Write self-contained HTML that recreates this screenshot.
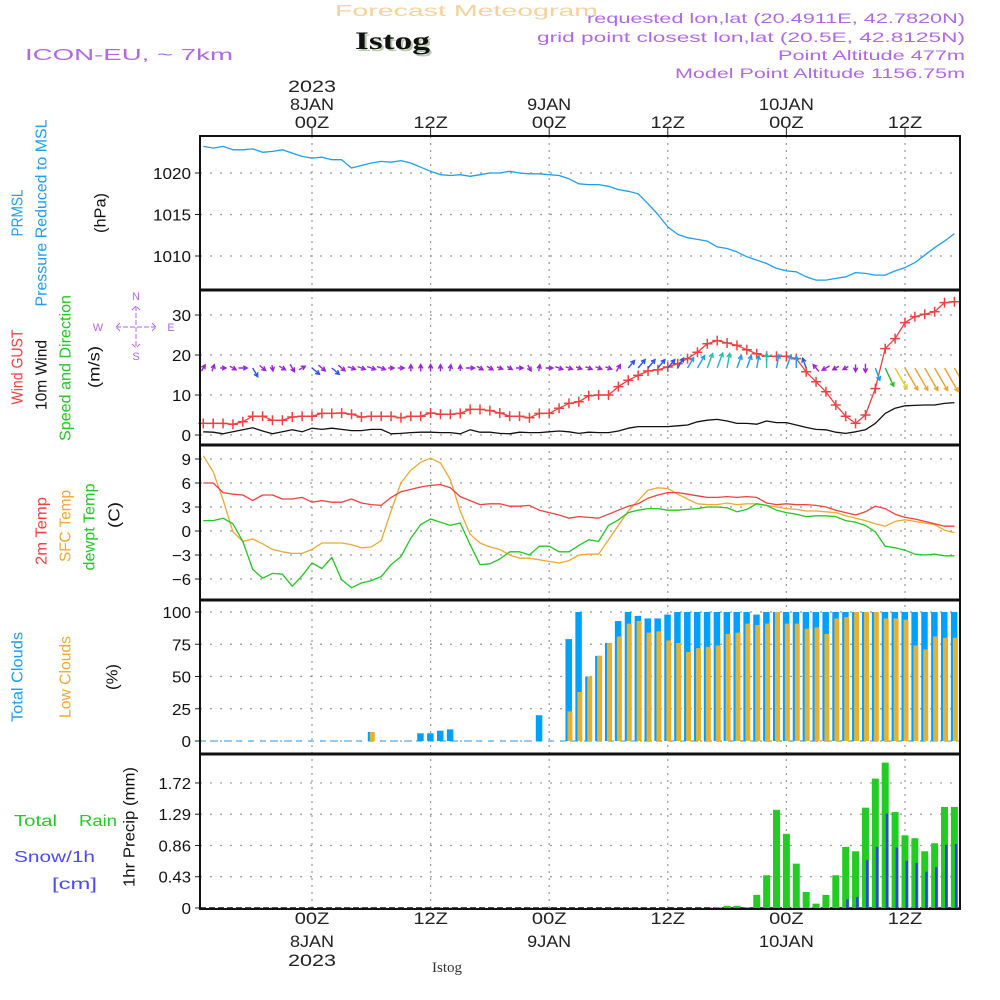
<!DOCTYPE html>
<html><head><meta charset="utf-8"><title>Istog Meteogram</title>
<style>
html,body{margin:0;padding:0;background:#fff;width:1000px;height:1000px;overflow:hidden}
svg{display:block;font-family:"Liberation Sans",sans-serif}
</style></head>
<body>
<svg id="chart" width="1000" height="1000" viewBox="0 0 1000 1000" xmlns="http://www.w3.org/2000/svg">
<text x="335" y="16" font-size="16" fill="#f5d29a" textLength="263" lengthAdjust="spacingAndGlyphs">Forecast Meteogram</text>
<text x="357" y="51" font-size="25" font-weight="bold" font-family="Liberation Serif, serif" fill="#b9c9b0" textLength="75" lengthAdjust="spacingAndGlyphs">Istog</text>
<text x="355" y="49" font-size="25" font-weight="bold" font-family="Liberation Serif, serif" fill="#111" textLength="75" lengthAdjust="spacingAndGlyphs">Istog</text>
<text x="25" y="60" font-size="16" fill="#b266e8" textLength="208" lengthAdjust="spacingAndGlyphs">ICON-EU, ~ 7km</text>
<g fill="#b266e8" font-size="14" text-anchor="end">
<text x="965" y="23" textLength="378" lengthAdjust="spacingAndGlyphs">requested lon,lat (20.4911E, 42.7820N)</text>
<text x="965" y="42" textLength="428" lengthAdjust="spacingAndGlyphs">grid point closest lon,lat (20.5E, 42.8125N)</text>
<text x="965" y="60" textLength="187" lengthAdjust="spacingAndGlyphs">Point Altitude 477m</text>
<text x="965" y="78" textLength="290" lengthAdjust="spacingAndGlyphs">Model Point Altitude 1156.75m</text>
</g>
<text transform="translate(982,700) rotate(-90)" text-anchor="middle" font-size="15" font-family="Liberation Serif, serif" fill="#d8d8d8">by Angel</text>
<text x="447" y="972" text-anchor="middle" font-size="15" font-family="Liberation Serif, serif" fill="#333">Istog</text>
<g id="labels" font-size="15"></g>
<g id="grid"></g>
<g id="marks"></g>
<g id="frame"></g>
</svg>
<script>
// ---- data (hourly, hours relative to 00Z 8 JAN 2023) ----
const hours = [];
for (let h = -11; h <= 65; h++) hours.push(h);
const pressure = [1023.2,1023.0,1023.2,1022.8,1022.8,1022.9,1022.5,1022.6,1022.8,1022.4,1022.0,
 1021.8,1021.9,1021.6,1021.6,1020.6,1020.9,1021.2,1021.4,1021.3,1021.5,1021.2,1020.7,
 1020.2,1019.8,1019.7,1019.8,1019.6,1019.8,1020.0,1020.0,1020.2,1020.0,1019.9,1019.9,
 1019.8,1019.7,1019.3,1018.7,1018.6,1018.6,1018.4,1018.0,1017.8,1017.5,1016.3,1015.0,
 1013.5,1012.6,1012.2,1012.0,1011.8,1011.1,1010.9,1010.5,1009.9,1009.5,1009.1,1008.5,
 1008.2,1008.1,1007.5,1007.1,1007.1,1007.3,1007.5,1008.0,1007.9,1007.7,1007.7,1008.2,
 1008.6,1009.2,1010.1,1011.0,1011.8,1012.7];
const gust = [2.9,2.9,2.9,2.7,3.3,4.7,4.7,3.7,3.7,4.5,4.7,
 4.7,5.4,5.4,5.5,5.2,4.5,4.7,4.7,4.7,4.3,4.7,4.7,
 5.5,5.2,5.2,5.4,6.4,6.4,6.1,5.5,4.7,4.7,4.3,5.4,
 5.4,6.7,7.9,8.3,9.8,10.0,10.0,12.1,13.7,14.9,16.0,16.3,
 17.0,17.8,19.1,20.7,22.8,23.6,23.0,22.4,21.3,20.3,19.7,19.7,
 19.7,19.1,15.8,13.3,10.8,7.5,4.7,2.9,5.0,11.6,21.6,24.1,
 28.1,29.6,30.2,30.8,33.1,33.3];
const wind10 = [0.8,0.7,0.3,0.8,1.3,1.8,1.0,0.3,0.8,1.3,0.8,
 1.7,1.4,1.7,1.4,1.1,1.1,1.4,1.4,0.3,0.4,0.6,0.7,
 0.7,0.6,0.6,0.3,1.3,0.7,0.7,0.4,0.3,0.7,0.6,0.6,
 0.8,1.0,0.8,0.4,0.7,0.6,0.6,1.0,1.7,2.1,2.1,2.1,
 2.1,2.3,2.5,3.3,3.7,3.9,3.5,2.9,2.9,2.7,3.5,3.1,
 3.1,2.5,1.9,1.4,1.3,0.7,0.4,0.8,1.3,2.9,5.4,6.7,
 7.3,7.4,7.5,7.5,7.9,8.1];
const windDir = [-60,-70,0,30,0,60,40,80,30,60,-30,
 40,40,40,40,20,20,20,20,0,0,-90,-90,
 -90,-90,-80,-90,0,30,30,20,30,0,60,-80,
 0,20,20,20,20,20,20,-60,-50,-50,-50,-50,
 -50,-60,-60,-60,-70,-70,-80,-70,-70,-80,-90,-80,
 -70,-90,-110,-130,150,150,150,90,90,70,65,60,
 60,60,60,60,60,60];
const temp2m = [6.0,6.0,4.8,4.6,4.5,3.8,4.5,4.5,4.0,4.0,4.2,
 3.6,3.8,3.6,3.6,4.0,3.5,3.3,3.2,4.2,4.9,5.2,5.5,
 5.7,5.8,5.4,4.3,3.8,3.3,3.4,3.4,3.1,3.1,3.2,2.6,
 2.3,2.0,1.6,1.8,1.7,1.6,2.1,2.6,3.1,3.4,4.1,4.5,
 4.8,4.8,4.6,4.4,4.2,4.2,4.3,4.2,4.3,4.2,3.5,3.3,
 3.4,3.3,3.3,3.2,3.0,2.6,2.3,2.0,2.4,3.1,2.8,2.1,
 1.7,1.5,1.2,0.9,0.6,0.6];
const tempSfc = [9.4,7.4,3.9,-0.1,-1.3,-1.0,-1.6,-2.3,-2.6,-2.8,-2.8,
 -2.3,-1.5,-1.5,-1.5,-1.7,-2.1,-2.0,-1.2,2.5,6.0,7.6,8.6,
 9.1,8.5,6.4,2.5,-0.4,-1.5,-2.0,-2.3,-3.0,-3.4,-3.4,-3.6,
 -3.8,-4.0,-3.7,-3.0,-2.9,-2.9,-1.1,0.7,2.5,3.8,5.1,5.4,
 5.3,4.6,4.0,3.4,3.3,3.3,3.5,3.3,3.4,3.4,3.2,3.0,
 2.8,2.7,2.5,2.5,2.4,2.3,1.9,1.6,1.3,0.9,0.6,1.2,
 1.4,1.2,1.0,0.8,0.1,-0.2];
const dewpt = [1.3,1.3,1.6,0.9,-1.3,-4.8,-5.9,-5.3,-5.4,-6.9,-5.6,
 -4.0,-4.7,-3.3,-6.1,-7.1,-6.5,-6.2,-5.7,-4.2,-3.2,-0.9,0.8,
 1.5,1.1,0.7,1.0,-1.7,-4.2,-4.1,-3.5,-2.6,-2.6,-3.0,-1.9,
 -1.9,-2.6,-2.6,-1.8,-1.1,-1.3,0.7,1.4,2.3,2.6,2.8,2.8,
 2.6,2.6,2.7,2.8,3.0,3.0,2.9,2.4,2.7,3.4,3.2,2.6,
 2.3,2.1,1.8,1.9,1.9,1.8,1.3,1.1,0.7,-0.1,-1.9,-2.1,
 -2.4,-2.9,-3.0,-2.9,-3.1,-3.1];
const cloudTotal = [0,0,0,0,0,0,0,0,0,0,0,
 0,0,0,0,0,0,7,0,0,0,0,6,
 6,8,9,0,0,0,0,0,0,0,0,20,
 0,0,79,100,50,66,76,93,100,97,95,95,
 98,100,100,100,100,100,100,100,100,98,100,100,
 100,100,100,100,100,100,100,100,100,100,100,100,
 100,100,100,100,100,100];
const cloudLow = [0,0,0,0,0,0,0,0,0,0,0,
 0,0,0,0,0,0,7,0,0,0,0,0,
 0,0,0,0,0,0,0,0,0,0,0,0,
 0,0,23,38,50,66,76,81,91,93,84,85,
 78,76,69,72,73,74,83,84,91,90,91,100,
 91,91,87,88,83,95,96,100,100,100,95,95,
 94,74,71,81,80,80];
const rain = [0,0,0,0,0,0,0,0,0,0,0,
 0,0,0,0,0,0,0,0,0,0,0,0,
 0,0,0,0,0,0,0,0,0,0,0,0,
 0,0,0,0,0,0,0,0,0,0,0,0,
 0,0,0,0,0,0.01,0.03,0.03,0.01,0.18,0.45,1.35,
 1.02,0.61,0.22,0.06,0.18,0.45,0.84,0.78,1.38,1.78,2.0,1.32,
 1.0,0.96,0.78,0.89,1.39,1.39];
const snow = [0,0,0,0,0,0,0,0,0,0,0,
 0,0,0,0,0,0,0,0,0,0,0,0,
 0,0,0,0,0,0,0,0,0,0,0,0,
 0,0,0,0,0,0,0,0,0,0,0,0,
 0,0,0,0,0,0,0,0,0,0,0,0,
 0,0,0,0,0,0,0.12,0.15,0.66,0.84,1.30,0.83,
 0.65,0.62,0.50,0.56,0.87,0.88];
const pressureTicks = [1010,1015,1020];
const windTicks = [0,10,20,30];
const tempTicks = [-6,-3,0,3,6,9];
const cloudTicks = [0,25,50,75,100];
const precipTicks = [0,0.43,0.86,1.29,1.72];
const timeTicks = [0,12,24,36,48,60];
const timeTickLabels = ["00Z","12Z","00Z","12Z","00Z","12Z"];
const dayLabels = ["8JAN","","9JAN","","10JAN",""];

// ---- axes ----
const X0 = 200, X1 = 960;
const xH = h => 312 + h * 9.883;
const yP = p => 173 - (p - 1020) * 8.3;
const yW = w => 435 - w * 4;
const yT = t => 531 - t * 8;
const yC = c => 741 - c * 1.29;
const yR = r => 908 - r * 72.7;
const panels = [[136,290],[290,445],[445,600],[600,754],[754,909]];

const NS = "http://www.w3.org/2000/svg";
const gGrid = document.getElementById('grid');
const gMarks = document.getElementById('marks');
const gFrame = document.getElementById('frame');
const gLab = document.getElementById('labels');
function mk(tag, attrs, parent) {
  const e = document.createElementNS(NS, tag);
  for (const k in attrs) e.setAttribute(k, attrs[k]);
  parent.appendChild(e);
  return e;
}
function txt(s, attrs, parent) { const e = mk('text', attrs, parent); e.textContent = s; return e; }
const W = 9.5;

timeTicks.forEach((h, i) => {
  const x = xH(h);
  const vl = mk('line', {x1:x, y1:136, x2:x, y2:909, stroke:'#999', 'stroke-width':1.2, 'stroke-dasharray':'2,5'}, gGrid);
  
  
  const tk = mk('line', {x1:x, y1:128, x2:x, y2:136, stroke:'#222'}, gFrame);
  
  
  const s = timeTickLabels[i];
  const t1 = txt(s, {x:x, y:128, 'text-anchor':'middle', 'font-size':17, fill:'#222', textLength:s.length*11.5, lengthAdjust:'spacingAndGlyphs'}, gLab);
  
  
  const t2 = txt(s, {x:x, y:924, 'text-anchor':'middle', 'font-size':17, fill:'#222', textLength:s.length*11.5, lengthAdjust:'spacingAndGlyphs'}, gLab);
  
  
  if (dayLabels[i]) {
    const d = dayLabels[i];
    const d1 = txt(d, {x:x, y:110, 'text-anchor':'middle', 'font-size':17, fill:'#222', textLength:d.length*11, lengthAdjust:'spacingAndGlyphs'}, gLab);
    
    
    const d2 = txt(d, {x:x, y:947, 'text-anchor':'middle', 'font-size':17, fill:'#222', textLength:d.length*11, lengthAdjust:'spacingAndGlyphs'}, gLab);
    
    
  }
});
const y1 = txt('2023', {x:xH(0), y:92, 'text-anchor':'middle', 'font-size':17, fill:'#222', textLength:48, lengthAdjust:'spacingAndGlyphs'}, gLab);


const y2 = txt('2023', {x:xH(0), y:966, 'text-anchor':'middle', 'font-size':17, fill:'#222', textLength:48, lengthAdjust:'spacingAndGlyphs'}, gLab);



function yAxis(ticks, fy, fmt, name) {
  ticks.forEach(v => {
    const y = fy(v);
    const gl = mk('line', {x1:X0, y1:y, x2:X1, y2:y, stroke:'#999', 'stroke-width':1.2, 'stroke-dasharray':'2,8'}, gGrid);
    
    
    const tk = mk('line', {x1:195, y1:y, x2:X0, y2:y, stroke:'#222'}, gFrame);
    
    
    const s = fmt(v);
    const len = s.replace('.', '').length * W + (s.indexOf('.') >= 0 ? 4 : 0);
    const t = txt(s, {x:191, y:y + 6, 'text-anchor':'end', 'font-size':16, fill:'#111', textLength:len, lengthAdjust:'spacingAndGlyphs'}, gLab);
    
    
  });
}
yAxis(pressureTicks, yP, v => String(v), 'pressure');
yAxis(windTicks, yW, v => String(v), 'wind');
yAxis(tempTicks, yT, v => (v < 0 ? '\u2212' + (-v) : String(v)), 'temp');
yAxis(cloudTicks, yC, v => String(v), 'cloud');
yAxis(precipTicks, yR, v => String(v), 'precip');

function line(vals, fy, color, name, w) {
  const pts = vals.map((v, i) => xH(hours[i]).toFixed(1) + ',' + fy(v).toFixed(1)).join(' ');
  const p = mk('polyline', {points:pts, fill:'none', stroke:color, 'stroke-width':w || 1.3, 'stroke-linejoin':'round'}, gMarks);
  
  
  return p;
}
line(pressure, yP, '#1e9ef0', 'pressure-line');
line(wind10, yW, '#111', 'wind10m-line');
line(gust, yW, '#f04040', 'wind-gust-line');
gust.forEach((v, i) => {
  const x = xH(hours[i]), y = yW(v);
  const m = mk('path', {d:`M${x-5},${y}H${x+5}M${x},${y-5}V${y+5}`, stroke:'#f04040', 'stroke-width':1.5}, gMarks);
  
  
});
function arrowColor(s) {
  if (s < 1.5) return '#9a22e0';
  if (s < 2.5) return '#3050f0';
  if (s < 3.5) return '#1e9cf0';
  if (s < 4.5) return '#20c0b0';
  if (s < 6) return '#20c020';
  if (s < 7) return '#e0d020';
  return '#f0a030';
}
wind10.forEach((s, i) => {
  const x = xH(hours[i]), y = 368;
  const L = 5 + s * 2.8;
  const a = windDir[i] * Math.PI / 180;
  const sx = s < 1.5 ? x - L * 0.5 * Math.cos(a) : x;
  const sy = s < 1.5 ? y - L * 0.5 * Math.sin(a) : y;
  const ex = sx + L * Math.cos(a), ey = sy + L * Math.sin(a);
  const hl = 4.5, ha = 0.5;
  const h1x = ex - hl * Math.cos(a - ha), h1y = ey - hl * Math.sin(a - ha);
  const h2x = ex - hl * Math.cos(a + ha), h2y = ey - hl * Math.sin(a + ha);
  const col = arrowColor(s);
  const p = mk('path', {d:`M${sx},${sy}L${ex},${ey}M${h1x},${h1y}L${ex},${ey}L${h2x},${h2y}`, stroke:col, 'stroke-width':1.4, fill:'none'}, gMarks);
  
  
});
line(tempSfc, yT, '#f0a830', 'sfc-temp-line');
line(temp2m, yT, '#f04040', 'temp-2m-line');
line(dewpt, yT, '#20c820', 'dewpoint-line');

const zc = mk('line', {x1:X0, y1:yC(0), x2:X1, y2:yC(0), stroke:'#1e9ef0', 'stroke-dasharray':'6,6'}, gMarks);


cloudTotal.forEach((v, i) => {
  if (v <= 0) return;
  const x = xH(hours[i]);
  const r = mk('rect', {x:x - 3.5, y:yC(v), width:6.5, height:yC(0) - yC(v), fill:'#00a0ff'}, gMarks);
  
  
});
cloudLow.forEach((v, i) => {
  if (v <= 0) return;
  const x = xH(hours[i]);
  const r = mk('rect', {x:x - 1.5, y:yC(v), width:5, height:yC(0) - yC(v), fill:'#e8b030'}, gMarks);
  
  
});
const zr = mk('line', {x1:X0, y1:yR(0), x2:X1, y2:yR(0), stroke:'#111', 'stroke-width':1.5, 'stroke-dasharray':'6,3'}, gMarks);


rain.forEach((v, i) => {
  if (v <= 0) return;
  const x = xH(hours[i]);
  const r = mk('rect', {x:x - 3.5, y:yR(v), width:7, height:yR(0) - yR(v), fill:'#22cc22'}, gMarks);
  
  
});
snow.forEach((v, i) => {
  if (v <= 0) return;
  const x = xH(hours[i]);
  const r = mk('rect', {x:x + 0.5, y:yR(v), width:2.5, height:yR(0) - yR(v), fill:'#3a3af0'}, gMarks);
  
  
});
const cover = mk('rect', {x:961, y:130, width:39, height:785, fill:'#fff'}, gFrame);



panels.forEach((p, i) => {
  const r = mk('rect', {x:X0, y:p[0], width:X1 - X0, height:p[1] - p[0], fill:'none', stroke:'#111', 'stroke-width':2}, gFrame);
  
  
});
[290,445,600,754].forEach(y => {
  const l = mk('line', {x1:X0, y1:y, x2:X1, y2:y, stroke:'#111', 'stroke-width':3}, gFrame);
  
  
});

function rot(s, x, y, color, name, len) {
  const a = {transform:`translate(${x},${y}) rotate(-90)`, 'text-anchor':'middle', 'dominant-baseline':'central', 'font-size':16, fill:color};
  if (len) { a.textLength = len; a.lengthAdjust = 'spacingAndGlyphs'; }
  const t = txt(s, a, gLab);
  
  
}
rot('PRMSL', 18, 213, '#1e9ef0', 'prmsl-title', 47);
rot('Pressure Reduced to MSL', 42, 213, '#1e9ef0', 'pressure-title', 187);
rot('(hPa)', 101, 213, '#111', 'pressure-unit', 40);
rot('Wind GUST', 18, 367, '#f04040', 'gust-title', 75);
rot('10m Wind', 42, 375, '#111', 'wind10m-title', 70);
rot('Speed and Direction', 66, 368, '#20c820', 'wind-direction-title', 146);
rot('(m/s)', 95, 367, '#111', 'wind-unit', 42);
rot('2m Temp', 42, 531, '#f04040', 'temp-2m-title', 68);
rot('SFC Temp', 66, 526, '#f0a830', 'sfc-temp-title', 72);
rot('dewpt Temp', 90, 527, '#20c820', 'dewpoint-title', 87);
rot('(C)', 115, 515, '#111', 'temp-unit', 26);
rot('Total Clouds', 18, 677, '#1e9ef0', 'total-cloud-title', 90);
rot('Low Clouds', 66, 677, '#f0a830', 'low-cloud-title', 82);
rot('(%)', 113, 677, '#111', 'cloud-unit', 26);
rot('1hr Precip (mm)', 130, 827, '#111', 'precip-title', 120);
const tr = txt('Total', {x:14, y:826, 'font-size':16, fill:'#22cc22', textLength:43, lengthAdjust:'spacingAndGlyphs'}, gLab);


const tr2 = txt('Rain', {x:79, y:826, 'font-size':16, fill:'#22cc22', textLength:38, lengthAdjust:'spacingAndGlyphs'}, gLab);


const sn = txt('Snow/1h', {x:14, y:862, 'font-size':16, fill:'#4a4af0', textLength:81, lengthAdjust:'spacingAndGlyphs'}, gLab);


const cm = txt('[cm]', {x:52, y:889, 'font-size':16, fill:'#4a4af0', textLength:45, lengthAdjust:'spacingAndGlyphs'}, gLab);



const comp = mk('g', {fill:'#b266e8', 'font-size':11, 'text-anchor':'middle'}, gLab);


txt('N', {x:136, y:300}, comp);
txt('W', {x:98, y:331}, comp);
txt('E', {x:171, y:331}, comp);
txt('S', {x:136, y:360}, comp);
mk('path', {d:'M116,327H156M136,306V348M120,323L116,327L120,331M152,323L156,327L152,331M132,310L136,306L140,310M132,344L136,348L140,344', stroke:'#b266e8', fill:'none', 'stroke-width':1, 'stroke-dasharray':'5,2'}, comp);
</script>
</body></html>
